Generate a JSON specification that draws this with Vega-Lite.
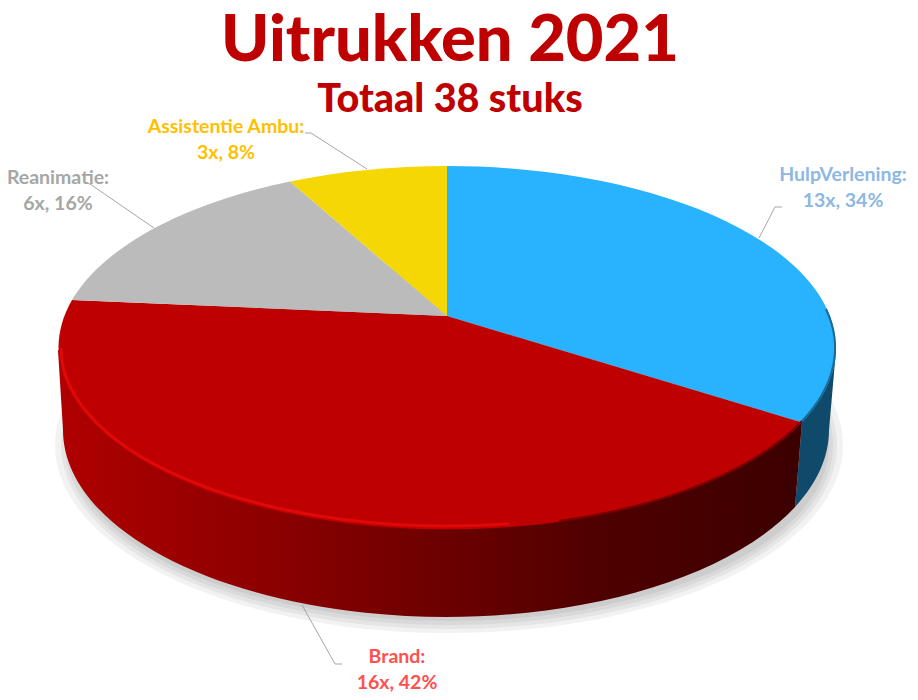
{
  "$schema": "https://vega.github.io/schema/vega-lite/v6.json",
  "description": "Uitrukken 2021 per soort, als 3D-taart",
  "autosize": "none",
  "padding": {"left": 0, "right": 0, "top": 118, "bottom": 0},
  "width": 918,
  "height": 582,
  "background": "white",
  "title": {
    "text": "Uitrukken 2021",
    "subtitle": "Totaal 38 stuks",
    "anchor": "middle",
    "dx": -9,
    "offset": -3,
    "font": "Lato",
    "fontSize": 65,
    "fontWeight": 900,
    "color": "#BE0000",
    "subtitleFont": "Lato",
    "subtitleFontSize": 39.5,
    "subtitleFontWeight": 900,
    "subtitleColor": "#BE0000",
    "subtitlePadding": 6
  },
  "config": {"view": {"stroke": null}},
  "datasets": {
    "uitrukken": [
      {"type": "HulpVerlening", "aantal": 13, "pct": 34},
      {"type": "Brand", "aantal": 16, "pct": 42},
      {"type": "Reanimatie", "aantal": 6, "pct": 16},
      {"type": "Assistentie Ambu", "aantal": 3, "pct": 8}
    ]
  },
  "data": {"name": "uitrukken"},
  "resolve": {"scale": {"shape": "independent"}},
  "layer": [
    {
      "mark": {"type": "point", "filled": true, "size": 4, "opacity": 0.05, "fill": "#000000"},
      "encoding": {
        "shape": {
          "field": "type",
          "type": "nominal",
          "legend": null,
          "scale": {
            "domain": ["HulpVerlening", "Brand", "Reanimatie", "Assistentie Ambu"],
            "range": [
              "M-404,36 A394 188 0 1 0 384,36 A394 188 0 1 0 -404,36 Z",
              "M-398,36 A388 184 0 1 0 378,36 A388 184 0 1 0 -398,36 Z",
              "M-394,36 A384 180 0 1 0 374,36 A384 180 0 1 0 -394,36 Z",
              "M-390,36 A380 176 0 1 0 370,36 A380 176 0 1 0 -390,36 Z"
            ]
          }
        }
      }
    },
    {
      "transform": [{"filter": "datum.type === 'HulpVerlening'"}],
      "mark": {"type": "point", "filled": true, "size": 4, "opacity": 1, "fill": "#0F4A6B"},
      "encoding": {
        "shape": {
          "field": "type",
          "type": "nominal",
          "legend": null,
          "scale": {"domain": ["HulpVerlening"], "range": ["M377,-59 L370,21 A383 187 0 0 1 336,98 L343,13 Z"]}
        }
      }
    },
    {
      "transform": [{"filter": "datum.type === 'Brand'"}],
      "mark": {
        "type": "point",
        "filled": true,
        "size": 4,
        "opacity": 1,
        "fill": {
          "gradient": "linear",
          "x1": 0,
          "y1": 0,
          "x2": 1,
          "y2": 0,
          "stops": [
            {"offset": 0, "color": "#B00000"},
            {"offset": 0.3, "color": "#8A0000"},
            {"offset": 0.52, "color": "#6C0000"},
            {"offset": 0.72, "color": "#500000"},
            {"offset": 1, "color": "#3C0000"}
          ]
        }
      },
      "encoding": {
        "shape": {
          "field": "type",
          "type": "nominal",
          "legend": null,
          "scale": {"domain": ["Brand"], "range": ["M-401,-59 L-396,21 A383 187 0 0 0 336,98 L343,13 Z"]}
        }
      }
    },
    {
      "mark": {"type": "point", "filled": true, "size": 4, "opacity": 1},
      "encoding": {
        "fill": {
          "field": "type",
          "type": "nominal",
          "legend": null,
          "scale": {
            "domain": ["HulpVerlening", "Brand", "Reanimatie", "Assistentie Ambu"],
            "range": ["#29B3FF", "#BE0000", "#BBBBBB", "#F5D706"]
          }
        },
        "shape": {
          "field": "type",
          "type": "nominal",
          "legend": null,
          "scale": {
            "domain": ["HulpVerlening", "Brand", "Reanimatie", "Assistentie Ambu"],
            "range": [
              "M-12,-93 L-12,-243 A389 182 0 0 1 343,13.4 Z",
              "M-12,-93 L343,13.4 A389 182 0 0 1 -387,-109 Z",
              "M-12,-93 L-387,-109 A389 182 0 0 1 -169,-227.5 Z",
              "M-12,-93 L-169,-227.5 A389 182 0 0 1 -12,-243 Z"
            ]
          }
        }
      }
    },
    {
      "transform": [{"filter": "datum.type === 'Brand'"}],
      "mark": {"type": "point", "filled": false, "size": 4, "opacity": 0.85, "stroke": "#E60A0A", "strokeWidth": 3},
      "encoding": {
        "shape": {
          "field": "type",
          "type": "nominal",
          "legend": null,
          "scale": {"domain": ["Brand"], "range": ["M-398,-61 A386 178 0 0 0 50,114.7"]}
        }
      }
    },
    {
      "transform": [{"filter": "datum.type === 'Brand'"}],
      "mark": {"type": "point", "filled": false, "size": 4, "opacity": 1, "stroke": "#7A0000", "strokeWidth": 2},
      "encoding": {
        "shape": {
          "field": "type",
          "type": "nominal",
          "legend": null,
          "scale": {"domain": ["Brand"], "range": ["M343,12 A388 181 0 0 1 100,112"]}
        }
      }
    },
    {
      "transform": [{"filter": "datum.type === 'HulpVerlening'"}],
      "mark": {"type": "point", "filled": false, "size": 4, "opacity": 1, "stroke": "#1A6A98", "strokeWidth": 2},
      "encoding": {
        "shape": {
          "field": "type",
          "type": "nominal",
          "legend": null,
          "scale": {"domain": ["HulpVerlening"], "range": ["M367,-100 A388 181 0 0 1 343,12"]}
        }
      }
    },
    {
      "mark": {"type": "point", "filled": false, "size": 4, "opacity": 1, "stroke": "#A6A6A6", "strokeWidth": 1},
      "encoding": {
        "shape": {
          "field": "type",
          "type": "nominal",
          "legend": null,
          "scale": {
            "domain": ["HulpVerlening", "Brand", "Reanimatie", "Assistentie Ambu"],
            "range": [
              "M323,-202 L316,-202 L300,-171",
              "M-117,255 L-124,255 L-157,196",
              "M-373,-226 L-369,-225 L-305,-181",
              "M-154,-276 L-148,-276 L-92,-240"
            ]
          }
        }
      }
    },
    {
      "transform": [{"calculate": "datum.type + ':\\n' + datum.aantal + 'x, ' + datum.pct + '%'", "as": "label"}],
      "mark": {
        "type": "text",
        "font": "Lato",
        "fontSize": 19.5,
        "fontWeight": "bold",
        "align": "center",
        "baseline": "middle",
        "lineBreak": "\n",
        "lineHeight": 25.5
      },
      "encoding": {
        "x": {
          "field": "pct",
          "type": "quantitative",
          "axis": null,
          "scale": {"domain": [8, 16, 34, 42], "range": [226, 58, 843, 397]}
        },
        "y": {
          "field": "pct",
          "type": "quantitative",
          "axis": null,
          "scale": {"domain": [8, 16, 34, 42], "range": [9, 60, 57, 539]}
        },
        "text": {"field": "label", "type": "nominal"},
        "color": {
          "field": "type",
          "type": "nominal",
          "legend": null,
          "scale": {
            "domain": ["HulpVerlening", "Brand", "Reanimatie", "Assistentie Ambu"],
            "range": ["#8DB8E2", "#FF5050", "#A6A6A6", "#FFC000"]
          }
        }
      }
    }
  ]
}
